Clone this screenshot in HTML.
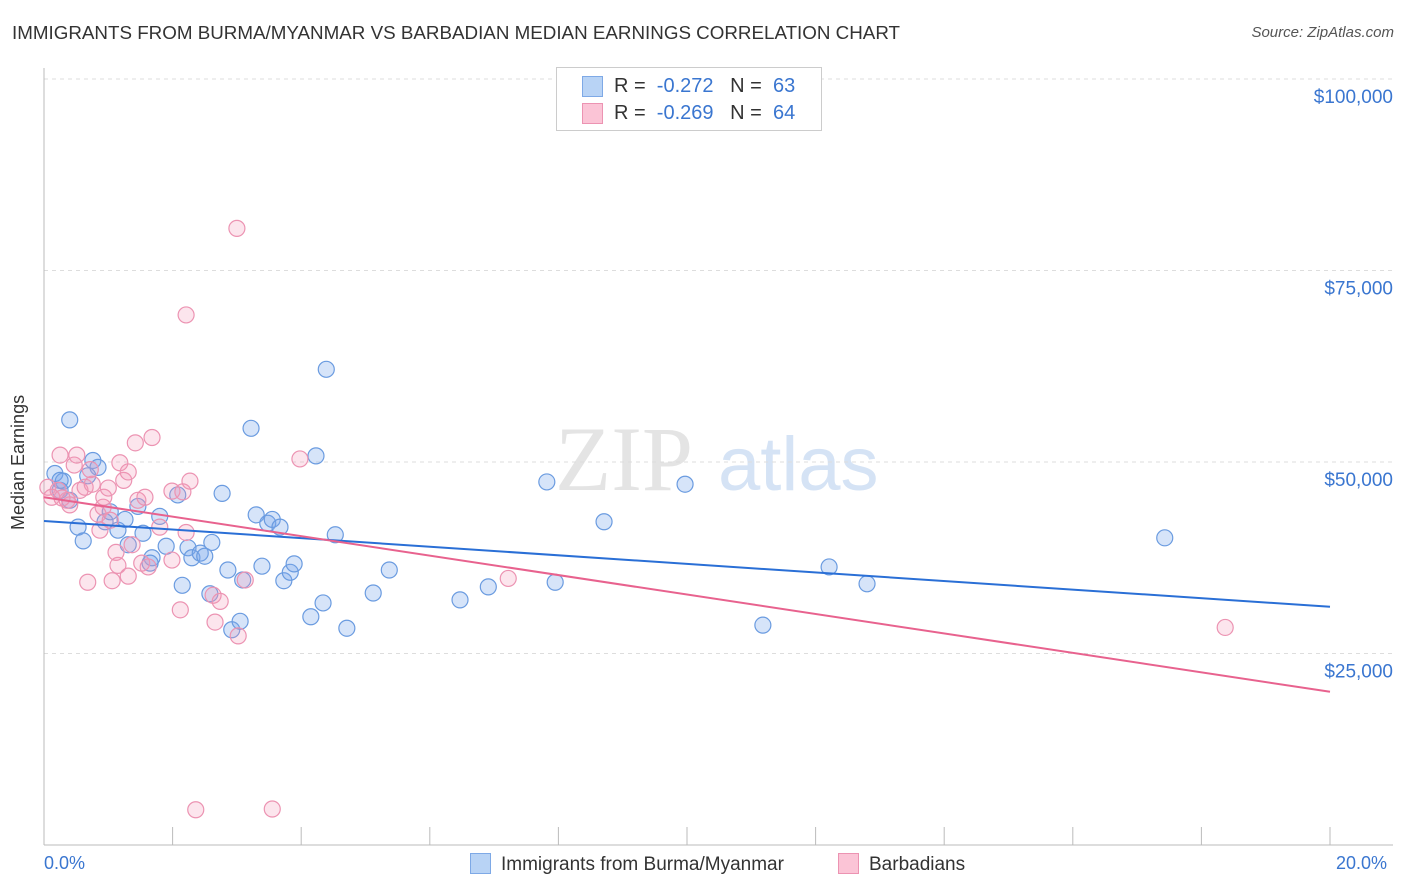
<!DOCTYPE html>
<html><head><meta charset="utf-8"><style>
body{margin:0;background:#fff;font-family:"Liberation Sans",sans-serif;}
#wrap{position:relative;width:1406px;height:892px;overflow:hidden;}
.t{position:absolute;white-space:nowrap;}
</style></head><body>
<div id="wrap">
<div class="t" style="left:12px;top:22px;font-size:18.8px;color:#333;">IMMIGRANTS FROM BURMA/MYANMAR VS BARBADIAN MEDIAN EARNINGS CORRELATION CHART</div>
<div class="t" style="right:12px;top:24px;font-size:15px;color:#555;font-style:italic;">Source: ZipAtlas.com</div>
<svg id="svg" width="1406" height="892" style="position:absolute;left:0;top:0"></svg>
<div class="t" style="left:556px;top:67px;width:264px;height:62px;border:1px solid #ccc;background:#fff;">
 <div style="position:absolute;left:25px;top:8px;width:19px;height:19px;background:#b8d3f5;border:1px solid #7ea9e6;"></div>
 <div style="position:absolute;left:25px;top:35px;width:19px;height:19px;background:#fbc4d6;border:1px solid #ec93b2;"></div>
 <div class="t" style="left:57px;top:7px;font-size:20px;color:#333;">R = <span style="color:#3a76d0">&nbsp;-0.272</span>&nbsp;&nbsp;&nbsp;N = <span style="color:#3a76d0">&nbsp;63</span></div>
 <div class="t" style="left:57px;top:34px;font-size:20px;color:#333;">R = <span style="color:#3a76d0">&nbsp;-0.269</span>&nbsp;&nbsp;&nbsp;N = <span style="color:#3a76d0">&nbsp;64</span></div>
</div>
<div class="t" style="left:8px;top:530px;transform:rotate(-90deg);transform-origin:0 0;font-size:18px;color:#333;">Median Earnings</div>
<div class="t" style="left:44px;top:853px;font-size:18px;color:#3a76d0;">0.0%</div>
<div class="t" style="left:1336px;top:853px;font-size:18px;color:#3a76d0;">20.0%</div>
<div class="t" style="left:470px;top:853px;font-size:19px;color:#333;"><span style="display:inline-block;width:19px;height:19px;background:#b8d3f5;border:1px solid #7ea9e6;vertical-align:-4px;margin-right:10px"></span>Immigrants from Burma/Myanmar</div>
<div class="t" style="left:838px;top:853px;font-size:19px;color:#333;"><span style="display:inline-block;width:19px;height:19px;background:#fbc4d6;border:1px solid #ec93b2;vertical-align:-4px;margin-right:10px"></span>Barbadians</div>
</div>
<script>
const yTicks=[25000,50000,75000,100000];
const yTickLabels=["$25,000","$50,000","$75,000","$100,000"];
const blueX=[0.17,0.40,0.30,0.76,0.84,0.68,0.25,0.53,0.61,0.95,1.03,1.15,1.26,1.46,1.54,1.31,1.68,1.80,1.90,2.08,2.15,2.24,2.30,2.43,2.50,2.61,2.58,2.77,2.86,2.92,3.05,3.09,3.22,3.30,3.39,3.48,3.55,3.67,3.73,3.83,3.89,4.15,4.34,4.23,4.39,4.53,4.71,5.12,5.37,6.47,6.91,7.82,7.95,8.71,9.97,11.18,12.21,12.80,17.43,0.25,1.65,0.40];
const blueY=[48500,55500,47500,50200,49300,48200,46300,41500,39700,42200,43500,41100,42500,44200,40700,39200,37500,42900,39000,45700,33900,38800,37500,38100,37700,39500,32800,45900,35900,28100,29200,34600,54400,43100,36400,42000,42500,41500,34500,35600,36700,29800,31600,50800,62100,40500,28300,32900,35900,32000,33700,47400,34300,42200,47100,28700,36300,34100,40100,47600,36800,45000];
const pinkX=[0.06,0.12,0.22,0.25,0.36,0.40,0.47,0.51,0.56,0.64,0.68,0.75,0.84,0.92,0.93,1.00,1.06,1.12,1.15,1.18,1.24,1.31,1.31,1.37,1.42,1.46,1.52,1.57,1.62,1.68,1.80,1.99,1.99,2.12,2.16,2.21,2.21,2.27,2.63,2.66,2.74,3.00,3.02,3.13,2.36,3.55,3.98,7.22,18.37,0.72,0.87,0.28,1.03];
const pinkY=[46700,45400,46300,50900,45000,44400,49600,50900,46300,46700,34300,47100,43200,44100,45400,46600,34500,38200,36500,49900,47600,48700,35100,39200,52500,45000,36800,45400,36300,53200,41500,46200,37200,30700,46100,69200,40800,47500,32600,29100,31800,80500,27300,34600,4600,4700,50400,34800,28400,49000,41100,45300,42400];
const blueTrend=[42300,31100];
const pinkTrend=[45400,20000];
const X0=44,X1=1330,Y0=845,YPER=191.5/25000;
const sx=v=>X0+(X1-X0)*v/20, sy=v=>Y0-v*YPER;
const svg=document.getElementById('svg');const NS='http://www.w3.org/2000/svg';
function mk(t,a){const e=document.createElementNS(NS,t);for(const k in a)e.setAttribute(k,a[k]);svg.appendChild(e);return e;}
let w=mk('text',{x:555,y:490,'font-size':92,fill:'#e4e4e4','font-family':'Liberation Serif,serif'});w.textContent='ZIP';


let w2=mk('text',{x:718,y:490,'font-size':76,fill:'#d5e3f5','font-family':'Liberation Sans,sans-serif'});w2.textContent='atlas';


yTicks.forEach((v,i)=>{
 const g=mk('line',{x1:X0,x2:1393,y1:sy(v),y2:sy(v),stroke:'#ddd','stroke-dasharray':'4,4'});
 
 
 const t=mk('text',{x:1393,y:sy(v)+24,'text-anchor':'end','font-size':19,fill:'#3a76d0','font-family':'Liberation Sans,sans-serif'});t.textContent=yTickLabels[i];
 
 
});
let ax=mk('line',{x1:X0,x2:X0,y1:68,y2:Y0,stroke:'#bbb'});


let bx=mk('line',{x1:X0,x2:1393,y1:Y0,y2:Y0,stroke:'#bbb'});


for(let i=0;i<=10;i++){const t=mk('line',{x1:sx(i*2),x2:sx(i*2),y1:Y0,y2:Y0-18,stroke:'#bbb'});
 
 }
blueX.forEach((x,i)=>{const c=mk('circle',{cx:sx(x),cy:sy(blueY[i]),r:8,fill:'rgba(120,165,235,0.3)',stroke:'#6a9be0','stroke-width':1.2});
 
 });
pinkX.forEach((x,i)=>{const c=mk('circle',{cx:sx(x),cy:sy(pinkY[i]),r:8,fill:'rgba(245,150,185,0.25)',stroke:'#ec93b2','stroke-width':1.2});
 
 });
let bl=mk('line',{x1:sx(0),y1:sy(blueTrend[0]),x2:sx(20),y2:sy(blueTrend[1]),stroke:'#2a6fd6','stroke-width':2});


let pl=mk('line',{x1:sx(0),y1:sy(pinkTrend[0]),x2:sx(20),y2:sy(pinkTrend[1]),stroke:'#e8628e','stroke-width':2});


</script>
</body></html>
